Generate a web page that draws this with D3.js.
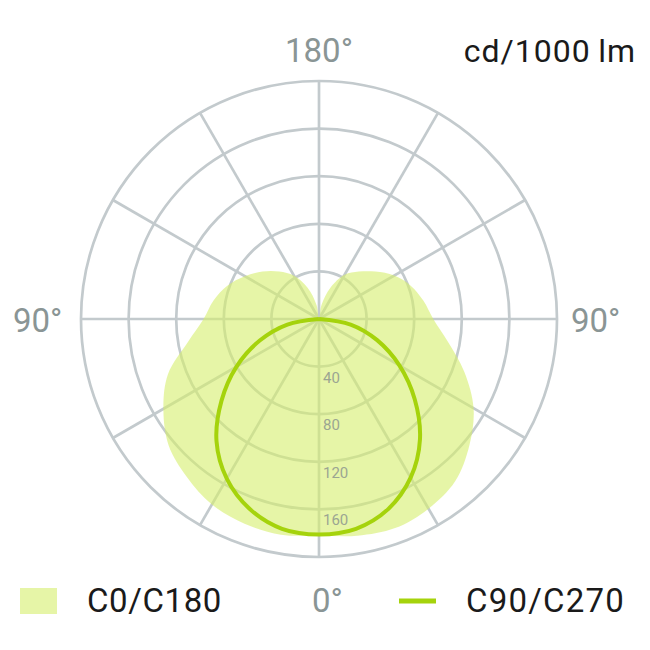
<!DOCTYPE html>
<html>
<head>
<meta charset="utf-8">
<script src="https://cdn.jsdelivr.net/npm/d3@7"></script>
<style>
  html,body{margin:0;padding:0;background:#fff;}
  svg{display:block;font-family:'Roboto',sans-serif;}
</style>
</head>
<body>
<div id="chart"></div>
<script>
// gamma angles (deg, 0 = straight down) and intensities in cd/1000 lm
const gammaFull = [0,10,20,30,40,50,60,70,80,90,100,110,120,130,140,150,160,170,180];
const c0   = [182,185,187,184,178,165,150,130,110,96,89,82,73,62,52,43,28,12,0];   // right half
const c180 = [182,184,183,180,173,165,151,135,112,97,90,82,72,62,52,42,28,12,0];   // left half
const gammaHalf = [0,10,20,30,40,50,60,70,80,90];
const c90  = [181,179,170,154,132,105,78,52,27,0];   // right half
const c270 = [181,179,170,155,134,107,80,53,27,0];   // left half
const ringTicks = [40,80,120,160];
const ringMax = 200;
const spokeAngles = d3.range(0,360,30);

const W=650,H=650, cx=319, cy=319;
const grid='#c3cacd', gridW=2.7;
const fillCol='#d6ee6c', lineCol='#a5d30c', greyTxt='#8a9595';

const svg=d3.select('#chart').append('svg').attr('width',W).attr('height',H);
const g=svg.append('g').attr('transform',`translate(${cx},${cy})`);
const r=d3.scaleLinear().domain([0,ringMax]).range([0,238]);
const rad=d=>d*Math.PI/180;

// grid
g.append('g').selectAll('circle').data([...ringTicks,ringMax]).join('circle')
  .attr('r',d=>r(d)).attr('fill','none').attr('stroke',grid).attr('stroke-width',gridW);
g.append('g').selectAll('line').data(spokeAngles).join('line')
  .attr('x1',0).attr('y1',0)
  .attr('x2',d=>r(ringMax)*Math.sin(rad(d))).attr('y2',d=>-r(ringMax)*Math.cos(rad(d)))
  .attr('stroke',grid).attr('stroke-width',gridW);

// C0/C180 area: right side a = pi - gamma, left side a = pi + gamma
const right=gammaFull.map((d,i)=>({a:Math.PI-rad(d), v:c0[i]})).reverse();      // a: 0 -> pi
const left=gammaFull.map((d,i)=>({a:Math.PI+rad(d), v:c180[i]})).slice(1,-1);    // a: pi -> 2pi
g.append('path')
  .attr('d',d3.lineRadial().angle(d=>d.a).radius(d=>r(d.v)).curve(d3.curveCatmullRomClosed.alpha(0.5))(right.concat(left)))
  .attr('fill',fillCol).attr('fill-opacity',0.6);

// ring labels
g.append('g').selectAll('text').data(ringTicks).join('text')
  .attr('x',4).attr('y',d=>r(d)+16).attr('font-size',15).attr('fill','#9ba592').text(d=>d);

// C90/C270 line
const rl=gammaHalf.map((d,i)=>({a:Math.PI-rad(d), v:c90[i]})).reverse();
const ll=gammaHalf.map((d,i)=>({a:Math.PI+rad(d), v:c270[i]})).slice(1);
g.append('path')
  .attr('d',d3.lineRadial().angle(d=>d.a).radius(d=>r(d.v)).curve(d3.curveCatmullRom.alpha(0.5))(rl.concat(ll)))
  .attr('fill','none').attr('stroke',lineCol).attr('stroke-width',4);

// angle labels
svg.append('text').attr('x',cx).attr('y',62).attr('text-anchor','middle').attr('font-size',33).attr('fill',greyTxt).text('180°');
svg.append('text').attr('x',13).attr('y',332).attr('font-size',33).attr('fill',greyTxt).text('90°');
svg.append('text').attr('x',571).attr('y',332).attr('font-size',33).attr('fill',greyTxt).text('90°');
svg.append('text').attr('x',636).attr('y',62).attr('text-anchor','end').attr('font-size',32).attr('letter-spacing',1)
  .attr('fill','#1a1a1a').text('cd/1000\u2009lm');

// legend
const ly=612;
svg.append('rect').attr('x',20).attr('y',588).attr('width',37).attr('height',26).attr('fill',fillCol).attr('fill-opacity',0.6);
svg.append('text').attr('x',87).attr('y',ly).attr('font-size',33).attr('letter-spacing',0.6).attr('fill','#1a1a1a').text('C0/C180');
svg.append('text').attr('x',312).attr('y',ly).attr('font-size',33).attr('fill',greyTxt).text('0°');
svg.append('line').attr('x1',399).attr('x2',436).attr('y1',601).attr('y2',601).attr('stroke',lineCol).attr('stroke-width',5);
svg.append('text').attr('x',466).attr('y',ly).attr('font-size',33).attr('letter-spacing',1.2).attr('fill','#1a1a1a').text('C90/C270');
</script>
</body>
</html>
